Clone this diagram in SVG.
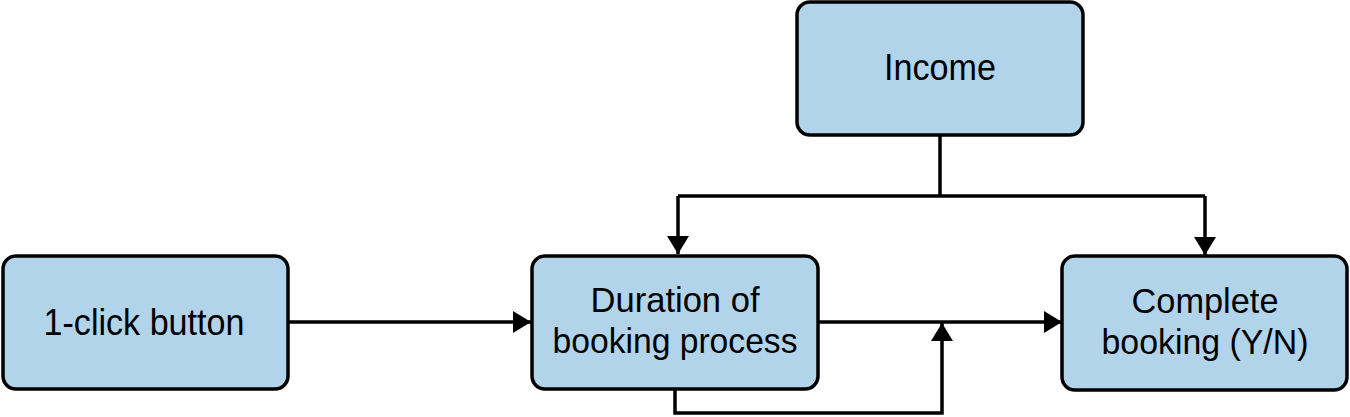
<svg xmlns="http://www.w3.org/2000/svg" width="1350" height="417" viewBox="0 0 1350 417">
<defs>
<style>
.box{fill:#b2d4ea;stroke:#000;stroke-width:3.5}
.lbl{font-family:"Liberation Sans",Arial,sans-serif;font-size:35px;fill:#000;text-anchor:middle}
.big{font-size:37px}
.edge{fill:none;stroke:#000;stroke-width:3.5}
</style>
<marker id="arr" viewBox="0 0 18 22" refX="18" refY="11" markerWidth="18" markerHeight="22" markerUnits="userSpaceOnUse" orient="auto">
<path d="M0,0 L18,11 L0,22 Z" fill="#000"/>
</marker>
</defs>
<g id="connectors">
<path class="edge" d="M940,136 V196 M678,196 H1205"/>
<path class="edge" d="M678,196 V254" marker-end="url(#arr)"/>
<path class="edge" d="M1205,196 V255" marker-end="url(#arr)"/>
<path class="edge" d="M288,322 H531" marker-end="url(#arr)"/>
<path class="edge" d="M818,322 H1062" marker-end="url(#arr)"/>
<path class="edge" d="M675,389 V413 H942 V323" marker-end="url(#arr)"/>
</g>
<g id="node-income">
<rect class="box" x="797" y="2" width="286" height="133" rx="13"/>
<text class="lbl big" x="940" y="80" textLength="112" lengthAdjust="spacingAndGlyphs">Income</text>
</g>
<g id="node-click">
<rect class="box" x="3" y="256" width="285" height="133" rx="13"/>
<text class="lbl big" x="144" y="335" textLength="201" lengthAdjust="spacingAndGlyphs">1-click button</text>
</g>
<g id="node-duration">
<rect class="box" x="532" y="256" width="286" height="133" rx="13"/>
<text class="lbl" x="675" y="312" textLength="169" lengthAdjust="spacingAndGlyphs">Duration of</text>
<text class="lbl" x="675" y="353" textLength="245" lengthAdjust="spacingAndGlyphs">booking process</text>
</g>
<g id="node-complete">
<rect class="box" x="1062" y="256" width="285" height="134" rx="13"/>
<text class="lbl" x="1205" y="313" textLength="147" lengthAdjust="spacingAndGlyphs">Complete</text>
<text class="lbl" x="1205" y="354" textLength="207" lengthAdjust="spacingAndGlyphs">booking (Y/N)</text>
</g>
</svg>
